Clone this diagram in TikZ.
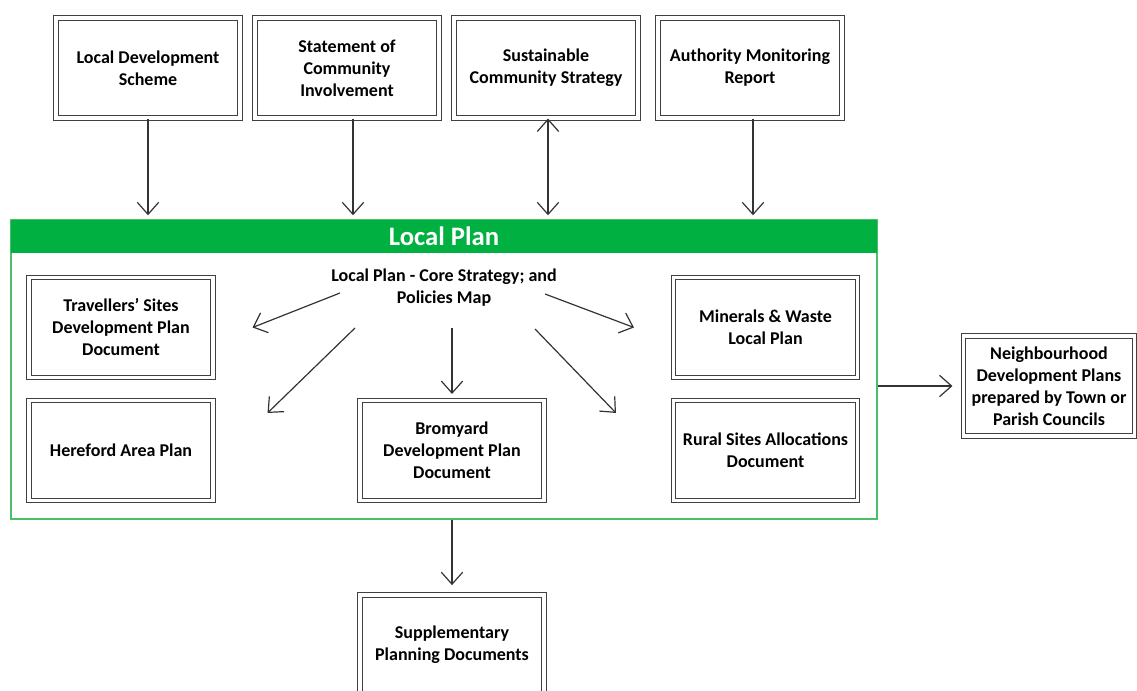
\documentclass[tikz,border=0pt]{standalone}
\usepackage{fontspec}
\setmainfont{Carlito}
\usepackage{xcolor}
\usepackage{tikz}
\usetikzlibrary{
    positioning,
    arrows.meta,
    calc
}
\definecolor{plangreen}{RGB}{0,176,64}
\definecolor{planborder}{RGB}{75,190,105}

\begin{document}
\begin{tikzpicture}[
    x=0.75pt, y=-0.75pt,
    every node/.style={font=\fontsize{13.5}{16.5}\selectfont\bfseries, align=center},
    doc_box/.style={rectangle, draw=black!75, line width=0.8pt, double, double distance=2.4pt, minimum width=138pt, minimum height=75pt, inner sep=2pt},
    plan_frame/.style={rectangle, draw=planborder, line width=1.1pt, minimum width=649.5pt, minimum height=224.25pt, inner sep=0pt},
    plan_header/.style={rectangle, fill=plangreen, minimum width=649.5pt, minimum height=24.75pt, inner sep=0pt, text=white, font=\fontsize{20}{24}\selectfont\bfseries},
    >={Straight Barb[length=9pt,width=16pt]},
    arrow_style/.style={->, line width=0.9pt, draw=black!80}
  ]
    \useasboundingbox (0,0) rectangle (1137,691);

    % inputs to the plan
    \node[doc_box] (lds) at (148,68) {Local Development\\Scheme};
    \node[doc_box] (sci) at (347,68) {Statement of\\Community\\Involvement};
    \node[doc_box] (scs) at (546,68) {Sustainable\\Community Strategy};
    \node[doc_box] (amr) at (750,68) {Authority Monitoring\\Report};

    \node[plan_frame] (local_plan) at (444,369.5) {};
    \node[plan_header, anchor=north] (lp_header) at (local_plan.north) {Local Plan};

    \node (core_text) at (444,288) {Local Plan - Core Strategy; and\\Policies Map};

    \node[doc_box] (travellers) at (121,327.5) {Travellers’ Sites\\Development Plan\\Document};
    \node[doc_box] (hereford) at (121,450.5) {Hereford Area Plan};
    \node[doc_box] (bromyard) at (452,450.5) {Bromyard\\Development Plan\\Document};
    \node[doc_box] (minerals) at (765.5,327.5) {Minerals \& Waste\\Local Plan};
    \node[doc_box] (rural) at (765.5,450.5) {Rural Sites Allocations\\Document};

    \node[doc_box, minimum width=128pt] (neighbourhood) at (1049,386) {Neighbourhood\\Development Plans\\prepared by Town or\\Parish Councils};
    \node[doc_box] (supplementary) at (452,645) {Supplementary\\Planning Documents};

    \draw[arrow_style, shorten >=3pt] (lds.south) -- (lds.south |- local_plan.north);
    \draw[arrow_style, shorten >=3pt] ([xshift=4.5pt]sci.south) -- ([xshift=4.5pt]sci.south |- local_plan.north);
    \draw[arrow_style, <->, shorten >=3pt] ([xshift=1.5pt]scs.south) -- ([xshift=1.5pt]scs.south |- local_plan.north);
    \draw[arrow_style, shorten >=3pt] ([xshift=2.25pt]amr.south) -- ([xshift=2.25pt]amr.south |- local_plan.north);

    % core strategy to the other documents
    \draw[arrow_style] ($(core_text.center)+(-104,5)$) -- ($(travellers.east)+(39,0)$);
    \draw[arrow_style] ($(core_text.center)+(-89,40)$) -- ($(hereford.north east)+(54,13)$);
    \draw[arrow_style] ($(core_text.center)+(8,40)$) -- ($(bromyard.north)+(0,-6)$);
    \draw[arrow_style] ($(core_text.center)+(101,6)$) -- ($(minerals.west)+(-39,0)$);
    \draw[arrow_style] ($(core_text.center)+(91,41)$) -- ($(rural.north west)+(-57,13)$);

    \draw[arrow_style, shorten >=8pt] (neighbourhood.west -| local_plan.east) -- (neighbourhood.west);
    \draw[arrow_style, shorten >=7pt] (bromyard.south |- local_plan.south) -- (supplementary.north);

\end{tikzpicture}
\end{document}
